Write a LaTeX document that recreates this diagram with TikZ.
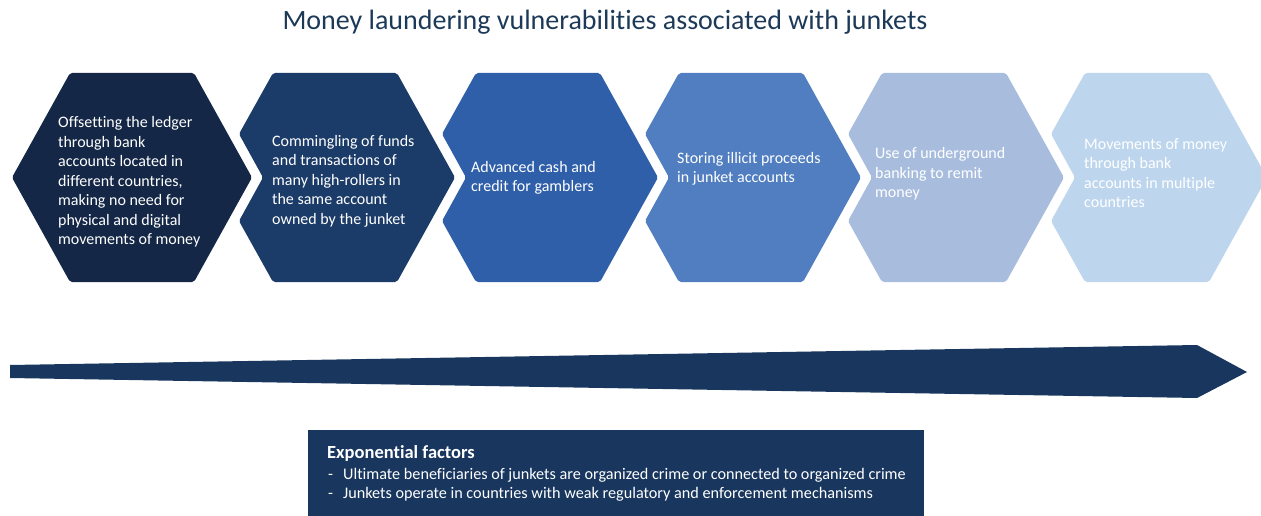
\documentclass[tikz,border=0pt]{standalone}
\usepackage{fontspec}
\setmainfont{Carlito}[Ligatures=NoCommon]
\definecolor{hA}{RGB}{20,39,70}
\definecolor{hB}{RGB}{27,59,104}
\definecolor{hC}{RGB}{47,95,169}
\definecolor{hD}{RGB}{80,126,192}
\definecolor{hE}{RGB}{168,189,222}
\definecolor{hF}{RGB}{190,214,237}
\definecolor{navy}{RGB}{24,54,94}
\definecolor{titlec}{RGB}{28,58,88}
\newcommand\chevhex[2]{\fill[#2,rounded corners=2pt] ({#1-62},73) -- ({#1+62},73) -- ({#1+120},177.5) -- ({#1+62},282) -- ({#1-62},282) -- ({#1-96},221) -- ({#1-72},177.5) -- ({#1-96},134) -- cycle;}
\begin{document}
\begin{tikzpicture}[x=1pt,y=-1pt,
  hextext/.style={text=white,align=left,anchor=west,inner sep=0pt,font=\fontsize{16}{19.5}\selectfont},
  boxtext/.style={text=white,align=left,anchor=west,inner sep=0pt,font=\fontsize{16.2}{19}\selectfont}]
\useasboundingbox (0,0) rectangle (1261,516);
\node[text=titlec,font=\fontsize{28}{32}\selectfont] (title) at (605,22) {Money laundering vulnerabilities associated with junkets};
% hexagons
\fill[hA,rounded corners=2pt] (70,73) -- (194,73) -- (252,177.5) -- (194,282) -- (70,282) -- (12,177.5) -- cycle;
\chevhex{335}{hB}
\chevhex{538}{hC}
\chevhex{741}{hD}
\chevhex{944}{hE}
\chevhex{1147}{hF}
\node[hextext] (t1) at (58,182) {Offsetting the ledger\\through bank\\accounts located in\\different countries,\\making no need for\\physical and digital\\movements of money};
\node[hextext] (t2) at (272,181) {Commingling of funds\\and transactions of\\many high-rollers in\\the same account\\owned by the junket};
\node[hextext] (t3) at (471,178) {Advanced cash and\\credit for gamblers};
\node[hextext] (t4) at (677,169) {Storing illicit proceeds\\in junket accounts};
\node[hextext] (t5) at (875,174) {Use of underground\\banking to remit\\money};
\node[hextext] (t6) at (1084,173) {Movements of money\\through bank\\accounts in multiple\\countries};
% arrow
\fill[navy] (10,365) -- (1197,345) -- (1247,372) -- (1197,398) -- (10,378) -- cycle;
% box
\node[fill=navy,minimum width=616pt,minimum height=90pt,anchor=north west,inner sep=0pt] (box) at (308,430) {};
\node[boxtext,font=\bfseries\fontsize{18.5}{22}\selectfont] (bh) at (327,453) {Exponential factors};
\node[boxtext] (b1) at (328,475) {-\hspace{10pt}Ultimate beneficiaries of junkets are organized crime or connected to organized crime};
\node[boxtext] (b2) at (328,494) {-\hspace{10pt}Junkets operate in countries with weak regulatory and enforcement mechanisms};
\end{tikzpicture}
\end{document}
